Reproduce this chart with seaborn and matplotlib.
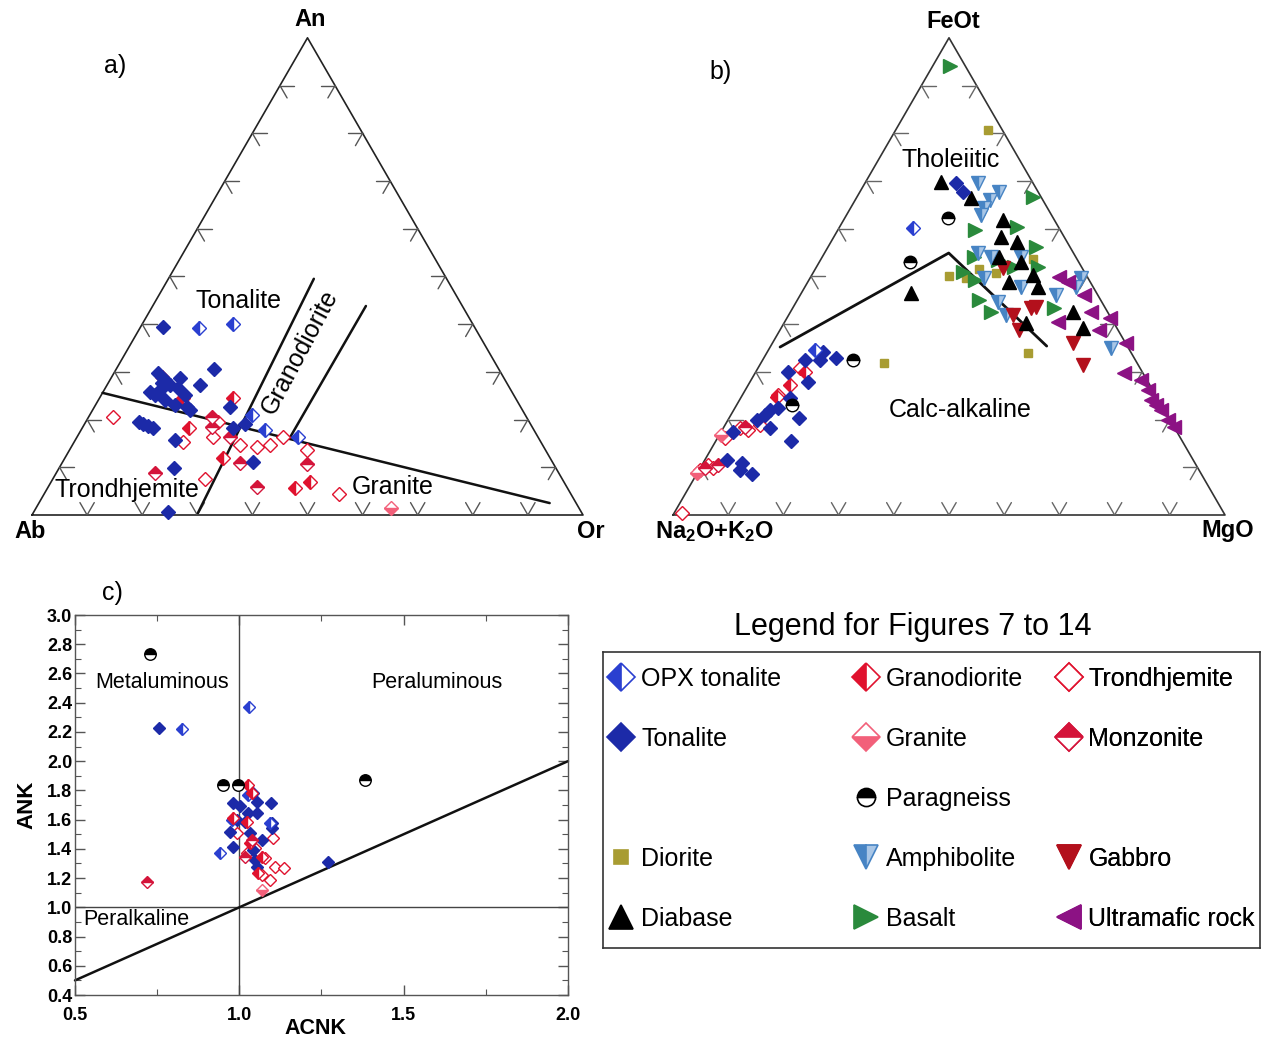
import numpy as np
import matplotlib
matplotlib.use('Agg')
import matplotlib.pyplot as plt
from matplotlib.lines import Line2D
from matplotlib.ticker import MultipleLocator, FormatStrFormatter
import seaborn as sns

# ---------------- data ----------------
# Panel a) An-Ab-Or (percent; Ab = 100 - An - Or)
a_opx_an = [39.2, 40.0, 21.0, 17.8, 16.3]
a_opx_or = [10.7, 16.5, 29.4, 33.4, 40.1]
a_ton_an = [39.4, 30.6, 27.2, 29.8, 28.3, 27.2, 26.2, 26.6, 25.1, 24.1, 23.1, 25.1, 25.8, 22.0,
            22.6, 19.5, 19.1, 18.7, 18.2, 15.7, 9.8, 0.6, 11.1, 22.6, 19.1, 18.2, 27.7, 28.7]
a_ton_or = [4.1, 17.7, 16.9, 8.0, 10.0, 11.4, 10.1, 13.2, 15.2, 12.1, 14.4, 9.8, 8.5, 17.7,
            16.8, 9.7, 10.6, 11.7, 12.9, 18.1, 20.9, 24.4, 34.6, 24.6, 29.1, 27.4, 9.8, 12.5]
a_gd_an = [18.2, 11.9, 5.7, 24.5, 6.9, 28.9, 24.5]
a_gd_or = [19.4, 28.7, 44.9, 24.2, 47.0, 9.1, 15.2]
a_tr_an = [20.5, 7.5, 4.4, 15.3, 16.3, 14.7, 14.2, 14.7, 13.6, 16.3, 19.5]
a_tr_or = [4.4, 27.6, 53.5, 19.8, 24.7, 30.4, 33.7, 35.8, 43.1, 37.4, 24.0]
a_gr_an = [1.5]
a_gr_or = [64.4]
a_mz_an = [8.8, 5.9, 10.7, 10.9, 20.5, 16.3, 18.4]
a_mz_or = [17.9, 37.9, 44.6, 32.3, 22.4, 27.8, 23.5]
# field boundaries (An, Or)
a_split_an = [25.6, 2.5]
a_split_or = [0.0, 92.7]
a_tongd_an = [0.4, 49.5]
a_tongd_or = [29.9, 26.4]
a_gdgr_an = [16.0, 43.8]
a_gdgr_or = [38.7, 38.7]

# Panel b) AFM (percent; Na2O+K2O = 100 - FeOt - MgO)
b_tr_fe = [0.4, 9.4, 10.5, 16.1, 18.2, 18.9, 25.1, 30.8, 9.8, 17.8]
b_tr_mg = [1.4, 0.2, 1.1, 1.4, 3.1, 6.4, 6.5, 7.6, 2.4, 4.7]
b_ton_fe = [11.5, 10.9, 8.6, 17.4, 19.9, 21.0, 22.0, 22.4, 18.2, 15.5, 20.3, 24.5, 27.9, 32.5,
            32.5, 32.9, 34.2, 30.0, 9.4, 69.6, 67.7]
b_ton_mg = [4.0, 7.1, 10.0, 2.2, 5.3, 6.2, 6.6, 7.9, 8.5, 13.7, 12.6, 9.0, 10.5, 7.7,
            10.4, 13.0, 10.1, 5.9, 7.5, 16.4, 18.6]
b_opx_fe = [60.1, 34.6]
b_opx_mg = [13.5, 8.5]
b_gd_fe = [27.2, 24.7, 30.0]
b_gd_mg = [7.6, 6.5, 9.0]
b_mz_fe = [9.8, 10.5, 18.4]
b_mz_mg = [0.9, 2.9, 3.9]
b_gr_fe = [8.8, 16.8]
b_gr_mg = [0.0, 0.3]
b_pg_fe = [32.5, 23.1, 53.0, 62.2]
b_pg_mg = [16.4, 10.0, 16.5, 18.8]
b_dio_fe = [80.7, 50.1, 31.9, 33.9, 53.6, 51.6, 50.7, 49.7]
b_dio_mg = [16.8, 25.0, 22.2, 47.3, 38.4, 29.6, 33.1, 28.2]
b_dia_fe = [69.8, 66.4, 61.8, 58.3, 57.2, 54.1, 48.8, 50.3, 47.8, 42.5, 39.2, 46.5, 40.2, 53.0]
b_dia_mg = [13.7, 20.7, 28.8, 30.2, 33.8, 32.0, 36.4, 40.0, 42.2, 51.2, 54.6, 19.8, 43.8, 36.5]
b_amp_fe = [69.6, 66.0, 64.3, 62.9, 54.9, 54.1, 54.1, 49.7, 47.8, 44.6, 46.1, 49.7, 47.8, 35.0, 67.7, 41.9]
b_amp_mg = [20.4, 24.5, 24.2, 24.3, 27.8, 30.5, 36.0, 31.5, 39.1, 36.5, 46.3, 49.0, 49.1, 61.8, 25.2, 39.3]
b_bas_fe = [94.1, 66.6, 59.7, 54.1, 50.9, 49.2, 45.1, 42.5, 56.2, 52.0, 43.4, 52.0, 60.4, 53.4]
b_bas_mg = [3.2, 31.9, 24.9, 27.4, 27.0, 30.2, 32.8, 36.3, 37.6, 35.7, 47.3, 40.1, 32.2, 32.1]
b_gab_fe = [51.8, 41.9, 38.8, 43.4, 43.6, 36.0, 31.4]
b_gab_mg = [33.8, 40.6, 43.2, 43.1, 43.9, 54.4, 58.5]
b_um_fe = [49.9, 48.8, 46.1, 42.5, 40.4, 38.8, 36.0, 29.8, 28.3, 26.2, 24.1, 22.0, 19.9, 18.4, 41.3, 23.1]
b_um_mg = [44.9, 47.1, 51.4, 54.5, 49.5, 57.7, 64.0, 66.8, 70.7, 72.9, 74.5, 77.4, 79.7, 81.5, 58.6, 76.0]
# Tholeiitic / calc-alkaline boundary (FeOt, MgO)
b_ib_fe = [35.2, 54.9, 35.4]
b_ib_mg = [1.8, 22.5, 50.0]

# Panel c) ACNK vs ANK
c_ton_x = [0.756, 1.042, 1.053, 1.096, 0.981, 1.002, 1.026, 1.053, 0.993, 1.017, 1.099, 0.972,
           1.099, 1.032, 1.069, 0.980, 1.042, 1.048, 1.053, 1.270]
c_ton_y = [2.230, 1.780, 1.720, 1.715, 1.715, 1.690, 1.647, 1.647, 1.600, 1.585, 1.578, 1.516,
           1.544, 1.510, 1.462, 1.410, 1.393, 1.325, 1.277, 1.310]
c_opx_x = [0.826, 1.030, 0.941, 1.093, 1.026, 0.977]
c_opx_y = [2.220, 2.370, 1.370, 1.578, 1.770, 1.600]
c_gd_x = [1.026, 0.981, 1.023, 1.032, 1.069, 1.057, 1.038]
c_gd_y = [1.840, 1.610, 1.585, 1.440, 1.345, 1.236, 1.780]
c_tr_x = [0.993, 1.102, 1.023, 1.108, 1.136, 1.069, 1.093, 1.048, 1.078]
c_tr_y = [1.510, 1.475, 1.372, 1.277, 1.270, 1.222, 1.188, 1.407, 1.338]
c_gr_x = [1.069]
c_gr_y = [1.120]
c_mz_x = [0.719, 1.038, 1.017]
c_mz_y = [1.174, 1.462, 1.345]
c_pg_x = [0.728, 0.950, 0.996, 1.382]
c_pg_y = [2.735, 1.840, 1.840, 1.873]

legend_cols = [
    ['OPX tonalite', 'Tonalite', '', 'Diorite', 'Diabase'],
    ['Granodiorite', 'Granite', 'Paragneiss', 'Amphibolite', 'Basalt'],
    ['Trondhjemite', 'Monzonite', '', 'Gabbro', 'Ultramafic rock'],
]

# ---------------- styles ----------------
BLUE = '#1c2aa8'
BLUE2 = '#2a3fd0'
RED = '#e0122e'
PINK = '#f2607a'
MZ = '#d4143a'
STY = {
    'OPX tonalite': dict(m='D', ms=7, fc=BLUE2, fs='left', ec=BLUE2),
    'Tonalite': dict(m='D', ms=7, fc=BLUE, fs='full', ec=BLUE),
    'Granodiorite': dict(m='D', ms=7, fc=RED, fs='left', ec=RED),
    'Trondhjemite': dict(m='D', ms=7, fc='white', fs='full', ec=RED),
    'Granite': dict(m='D', ms=7, fc=PINK, fs='bottom', ec=PINK),
    'Monzonite': dict(m='D', ms=7, fc=MZ, fs='top', ec=MZ),
    'Paragneiss': dict(m='o', ms=9, fc='black', fs='top', ec='black'),
    'Diorite': dict(m='s', ms=5.5, fc='#a89c32', fs='full', ec='#a89c32'),
    'Amphibolite': dict(m='v', ms=10.5, fc='#4784c4', fs='left', ec='#4784c4', alt='#a9c6e6'),
    'Gabbro': dict(m='v', ms=10.5, fc='#b3101c', fs='full', ec='#b3101c'),
    'Diabase': dict(m='^', ms=10.5, fc='black', fs='full', ec='black'),
    'Basalt': dict(m='>', ms=10.5, fc='#2a8a3c', fs='full', ec='#2a8a3c'),
    'Ultramafic rock': dict(m='<', ms=10.5, fc='#8c1284', fs='full', ec='#8c1284'),
}
LEG_SCALE = {'D': 2.1, 'o': 1.45, 's': 1.8, 'v': 1.7, '^': 1.7, '>': 1.7, '<': 1.7}

W, H = 1263, 1040
sns.set_theme(style='ticks')
plt.rcParams['font.family'] = ['Liberation Sans', 'DejaVu Sans']
plt.rcParams['text.color'] = 'black'
plt.rcParams['axes.labelcolor'] = 'black'
plt.rcParams['mathtext.fontset'] = 'custom'
plt.rcParams['mathtext.rm'] = 'Liberation Sans'
plt.rcParams['mathtext.bf'] = 'Liberation Sans:bold'

fig = plt.figure(figsize=(W / 100, H / 100), dpi=100)
fig.patch.set_facecolor('white')


def ftext(px, py, s, **kw):
    kw.setdefault('ha', 'center')
    kw.setdefault('va', 'center')
    kw.setdefault('color', 'black')
    fig.text(px / W, 1 - py / H, s, **kw)


def proj(top, right):
    top = np.asarray(top, float) / 100.0
    right = np.asarray(right, float) / 100.0
    return right + top / 2.0, top * np.sqrt(3) / 2.0


def draw(ax, x, y, name, ms_scale=1.0, z=3):
    s = STY[name]
    sns.lineplot(x=np.asarray(x, float), y=np.asarray(y, float), ax=ax, estimator=None, sort=False,
                 linestyle='none', marker=s['m'], markersize=s['ms'] * ms_scale,
                 markerfacecolor=s['fc'], markerfacecoloralt=s.get('alt', 'white'),
                 fillstyle=s['fs'], markeredgecolor=s['ec'], markeredgewidth=1.0,
                 color=s['ec'], clip_on=False, zorder=z)


def ternary_frame(ax, edge_color, tick_color):
    r3 = np.sqrt(3) / 2
    ax.plot([0, 1, 0.5, 0], [0, 0, r3, 0], color=edge_color, lw=1.2, zorder=1, clip_on=False)
    L = 0.026
    c60, s60 = 0.5, r3
    for k in range(1, 10):
        t = k / 10
        p = (t, 0.0)
        for d in [(c60, s60), (-c60, s60)]:
            ax.plot([p[0], p[0] + L * d[0]], [p[1], p[1] + L * d[1]], color=tick_color, lw=1.0, zorder=1)
        p = (t * 0.5, t * r3)
        for d in [(1, 0), (c60, -s60)]:
            ax.plot([p[0], p[0] + L * d[0]], [p[1], p[1] + L * d[1]], color=tick_color, lw=1.0, zorder=1)
        p = (1 - t * 0.5, t * r3)
        for d in [(-1, 0), (-c60, -s60)]:
            ax.plot([p[0], p[0] + L * d[0]], [p[1], p[1] + L * d[1]], color=tick_color, lw=1.0, zorder=1)
    ax.set_xlim(0, 1)
    ax.set_ylim(0, 478 / 551)
    ax.axis('off')


# ---------------- panel a ----------------
ax_a = fig.add_axes([32 / W, 1 - 515 / H, 551 / W, 478 / H])
ternary_frame(ax_a, '#222222', '#555555')
for an, or_ in [(a_split_an, a_split_or), (a_tongd_an, a_tongd_or), (a_gdgr_an, a_gdgr_or)]:
    x, y = proj(an, or_)
    ax_a.plot(x, y, color='#111111', lw=1.8, zorder=2)
for an, or_, name in [(a_tr_an, a_tr_or, 'Trondhjemite'), (a_gd_an, a_gd_or, 'Granodiorite'),
                      (a_mz_an, a_mz_or, 'Monzonite'), (a_gr_an, a_gr_or, 'Granite'),
                      (a_ton_an, a_ton_or, 'Tonalite'), (a_opx_an, a_opx_or, 'OPX tonalite')]:
    x, y = proj(an, or_)
    draw(ax_a, x, y, name)
ax_a.set_xlim(0, 1)
ax_a.set_ylim(0, 478 / 551)

ftext(310, 20, 'An', fontsize=17, fontweight='bold')
ftext(30, 531, 'Ab', fontsize=17, fontweight='bold')
ftext(591, 532, 'Or', fontsize=17, fontweight='bold')
ftext(115, 66, 'a)', fontsize=18)
ftext(238, 301, 'Tonalite', fontsize=18)
ftext(300, 352, 'Granodiorite', fontsize=18, rotation=62)
ftext(127, 490, 'Trondhjemite', fontsize=18)
ftext(393, 487, 'Granite', fontsize=18)

# ---------------- panel b ----------------
ax_b = fig.add_axes([673 / W, 1 - 515 / H, 552 / W, 478 / H])
ternary_frame(ax_b, '#333333', '#666666')
x, y = proj(b_ib_fe, b_ib_mg)
ax_b.plot(x, y, color='#111111', lw=2.0, zorder=2)
for fe, mg, name in [(b_dio_fe, b_dio_mg, 'Diorite'), (b_bas_fe, b_bas_mg, 'Basalt'),
                     (b_amp_fe, b_amp_mg, 'Amphibolite'), (b_gab_fe, b_gab_mg, 'Gabbro'),
                     (b_dia_fe, b_dia_mg, 'Diabase'), (b_um_fe, b_um_mg, 'Ultramafic rock'),
                     (b_tr_fe, b_tr_mg, 'Trondhjemite'), (b_gr_fe, b_gr_mg, 'Granite'),
                     (b_mz_fe, b_mz_mg, 'Monzonite'), (b_gd_fe, b_gd_mg, 'Granodiorite'),
                     (b_ton_fe, b_ton_mg, 'Tonalite'), (b_opx_fe, b_opx_mg, 'OPX tonalite'),
                     (b_pg_fe, b_pg_mg, 'Paragneiss')]:
    x, y = proj(fe, mg)
    draw(ax_b, x, y, name)
ax_b.set_xlim(0, 1)
ax_b.set_ylim(0, 478 / 551)

ftext(953, 22, 'FeOt', fontsize=17, fontweight='bold')
ftext(714, 532, r'Na$\mathbf{_2}$O+K$\mathbf{_2}$O', fontsize=17, fontweight='bold')
ftext(1228, 530, 'MgO', fontsize=17, fontweight='bold')
ftext(721, 72, 'b)', fontsize=18)
ftext(951, 160, 'Tholeiitic', fontsize=18)
ftext(960, 410, 'Calc-alkaline', fontsize=18)

# ---------------- panel c ----------------
ax_c = fig.add_axes([75 / W, 1 - 995 / H, 493 / W, 380 / H])
ax_c.axvline(1.0, color='#444444', lw=1.0, zorder=1)
ax_c.axhline(1.0, color='#444444', lw=1.0, zorder=1)
ax_c.plot([0.5, 2.0], [0.5, 2.0], color='#111111', lw=1.8, zorder=2, clip_on=False)
for xs, ys, name in [(c_tr_x, c_tr_y, 'Trondhjemite'), (c_ton_x, c_ton_y, 'Tonalite'),
                     (c_opx_x, c_opx_y, 'OPX tonalite'), (c_gd_x, c_gd_y, 'Granodiorite'),
                     (c_gr_x, c_gr_y, 'Granite'), (c_mz_x, c_mz_y, 'Monzonite'),
                     (c_pg_x, c_pg_y, 'Paragneiss')]:
    draw(ax_c, xs, ys, name, ms_scale=0.92)
ax_c.set_xlim(0.5, 2.0)
ax_c.set_ylim(0.4, 3.0)
ax_c.xaxis.set_major_locator(MultipleLocator(0.5))
ax_c.xaxis.set_minor_locator(MultipleLocator(0.25))
ax_c.yaxis.set_major_locator(MultipleLocator(0.2))
ax_c.yaxis.set_minor_locator(MultipleLocator(0.1))
ax_c.xaxis.set_major_formatter(FormatStrFormatter('%.1f'))
ax_c.yaxis.set_major_formatter(FormatStrFormatter('%.1f'))
ax_c.tick_params(which='both', direction='in', top=True, right=True, bottom=True, left=True,
                 color='#555555', labelsize=13, labelcolor='black')
ax_c.tick_params(which='major', length=7, width=1.0)
ax_c.tick_params(which='minor', length=4, width=0.8)
ax_c.tick_params(axis='x', pad=9)
ax_c.tick_params(axis='y', pad=2)
for lab in ax_c.get_xticklabels() + ax_c.get_yticklabels():
    lab.set_fontweight('bold')
for sp in ax_c.spines.values():
    sp.set_color('#555555')
    sp.set_linewidth(1.0)
ax_c.set_xlabel('ACNK', fontsize=15.5, fontweight='bold', color='black')
ax_c.set_ylabel('ANK', fontsize=16, fontweight='bold', color='black')
ax_c.xaxis.set_label_coords(240 / 493, -23 / 380)
ax_c.yaxis.set_label_coords(-38 / 493, 0.5)
ax_c.text(0.765, 2.537, 'Metaluminous', ha='center', va='center', fontsize=15.5, color='black')
ax_c.text(1.601, 2.537, 'Peraluminous', ha='center', va='center', fontsize=15.5, color='black')
ax_c.text(0.686, 0.914, 'Peralkaline', ha='center', va='center', fontsize=15.5, color='black')
ftext(112, 593, 'c)', fontsize=18)

# ---------------- legend ----------------
ax_l = fig.add_axes([603 / W, 1 - 948 / H, 657 / W, 296 / H])
ax_l.set_xticks([])
ax_l.set_yticks([])
for sp in ax_l.spines.values():
    sp.set_color('#333333')
    sp.set_linewidth(1.2)
ftext(913, 627, 'Legend for Figures 7 to 14', fontsize=22)


def handle(name):
    if not name:
        return Line2D([], [], linestyle='none', marker='None')
    s = STY[name]
    return Line2D([], [], linestyle='none', marker=s['m'], markersize=s['ms'] * LEG_SCALE[s['m']],
                  markerfacecolor=s['fc'], markerfacecoloralt=s.get('alt', 'white'),
                  fillstyle=s['fs'], markeredgecolor=s['ec'], markeredgewidth=1.2)


col_x = [(608.5 - 603) / 657, (853 - 603) / 657, (1056 - 603) / 657]
for cx, names in zip(col_x, legend_cols):
    leg = ax_l.legend(handles=[handle(n) for n in names], labels=[n if n else ' ' for n in names],
                      loc='upper left', bbox_to_anchor=(cx, 0.949), frameon=False, fontsize=18,
                      handlelength=1.0, handletextpad=0.3, labelspacing=1.44, borderpad=0,
                      borderaxespad=0, labelcolor='black')
    ax_l.add_artist(leg)

fig.savefig('out.png', dpi=100, facecolor='white')
